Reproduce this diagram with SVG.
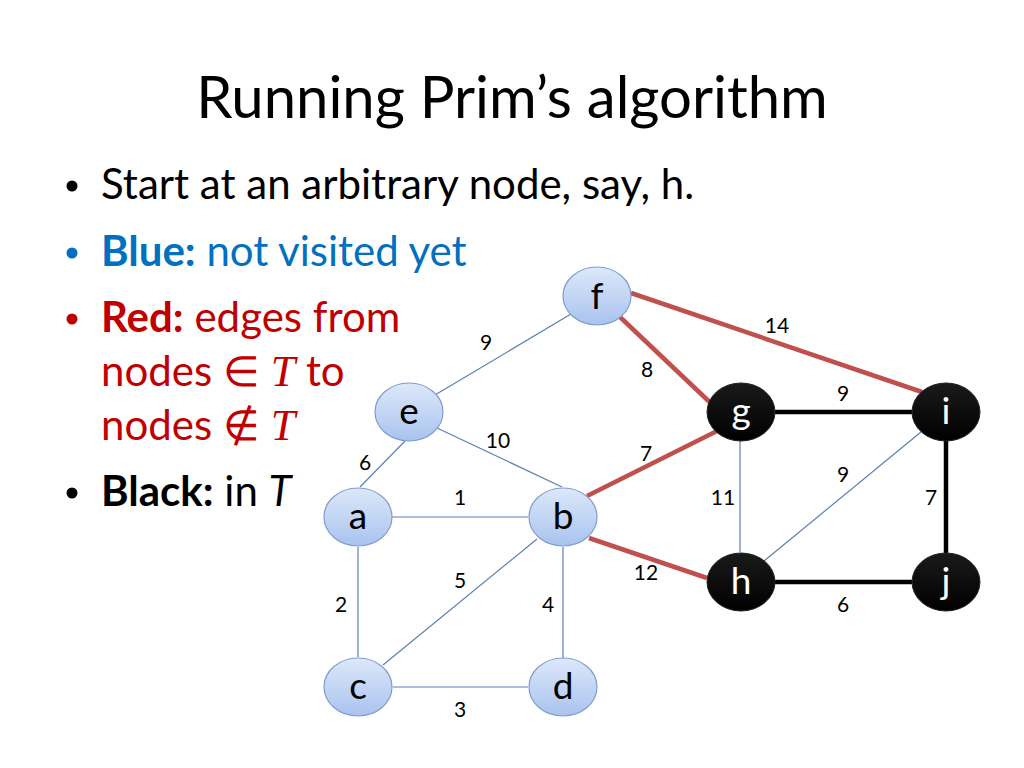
<svg xmlns="http://www.w3.org/2000/svg" width="1024" height="768" viewBox="0 0 1024 768">
<defs>
<linearGradient id="bg" x1="0" y1="0" x2="0" y2="1">
<stop offset="0" stop-color="#dde8fa"/>
<stop offset="1" stop-color="#a9c3ee"/>
</linearGradient>
<linearGradient id="kg" x1="0" y1="0" x2="0" y2="1">
<stop offset="0" stop-color="#1a1a1a"/>
<stop offset="1" stop-color="#000"/>
</linearGradient>
<style>
.t{font-family:Lato,"Open Sans",sans-serif}
.title{font-size:58px;fill:#000}
.b{font-size:42px}
.w{font-size:21px;fill:#000;text-anchor:middle}
.nb ellipse{fill:url(#bg);stroke:#7f9ccf;stroke-width:1.2}
.nk ellipse{fill:url(#kg);stroke:#222;stroke-width:1}
.nb text{font-size:37px;fill:#000;text-anchor:middle}
.nk text{font-size:37px;fill:#fff;text-anchor:middle}
.eb{stroke:#5b7fb5;stroke-width:1.2;fill:none}
.er{stroke:#c0504d;stroke-width:4.5;fill:none}
.ek{stroke:#000;stroke-width:4.5;fill:none}
.m{font-family:"Liberation Serif",serif;font-style:italic}
</style>
</defs>
<rect width="1024" height="768" fill="#fff"/>
<text class="t title" x="512" y="118" text-anchor="middle">Running Prim’s algorithm</text>
<g class="t b">
<circle cx="72" cy="186" r="5.5" fill="#000"/>
<text x="101" y="199" fill="#000">Start at an arbitrary node, say, h.</text>
<circle cx="72" cy="253" r="5.5" fill="#0070c0"/>
<text x="101" y="266" fill="#0070c0"><tspan font-weight="bold">Blue:</tspan> not visited yet</text>
<circle cx="72" cy="319" r="5.5" fill="#c00000"/>
<text x="101" y="332" fill="#c00000"><tspan font-weight="bold">Red:</tspan> edges from</text>
<text x="101" y="386" fill="#c00000">nodes ∈ <tspan class="m" font-size="44">T</tspan> to</text>
<text x="101" y="440" fill="#c00000">nodes ∉ <tspan class="m" font-size="44">T</tspan></text>
<circle cx="72" cy="493" r="5.5" fill="#000"/>
<text x="101" y="506" fill="#000"><tspan font-weight="bold">Black:</tspan> in <tspan font-style="italic">T</tspan></text>
</g>
<g id="edges">
<line class="eb" x1="435" y1="395" x2="571" y2="314"/>
<line class="eb" x1="437" y1="428" x2="562" y2="487"/>
<line class="eb" x1="405" y1="441" x2="360" y2="487"/>
<line class="eb" x1="392" y1="517" x2="528" y2="517"/>
<line class="eb" x1="358" y1="547" x2="358" y2="657"/>
<line class="eb" x1="537" y1="539" x2="383" y2="665"/>
<line class="eb" x1="563" y1="547" x2="563" y2="658"/>
<line class="eb" x1="393" y1="687" x2="528" y2="687"/>
<line class="eb" x1="740" y1="441" x2="740" y2="552"/>
<line class="eb" x1="764" y1="561" x2="921" y2="432"/>
<line class="er" x1="620" y1="317" x2="718" y2="410"/>
<line class="er" x1="631" y1="293" x2="922" y2="392"/>
<line class="er" x1="587" y1="496" x2="717" y2="431"/>
<line class="er" x1="589" y1="538" x2="707" y2="578"/>
<line class="ek" x1="775" y1="412" x2="912" y2="412"/>
<line class="ek" x1="946" y1="440" x2="946" y2="553"/>
<line class="ek" x1="774" y1="582" x2="912" y2="582"/>
<g class="t">
<text class="w" x="486" y="350">9</text>
<text class="w" x="777" y="333">14</text>
<text class="w" x="647" y="377">8</text>
<text class="w" x="843" y="401">9</text>
<text class="w" x="498" y="448">10</text>
<text class="w" x="646" y="461">7</text>
<text class="w" x="365" y="470">6</text>
<text class="w" x="460" y="505">1</text>
<text class="w" x="843" y="482">9</text>
<text class="w" x="723" y="505">11</text>
<text class="w" x="931" y="505">7</text>
<text class="w" x="646" y="580">12</text>
<text class="w" x="460" y="588">5</text>
<text class="w" x="548" y="612">4</text>
<text class="w" x="341" y="612">2</text>
<text class="w" x="843" y="612">6</text>
<text class="w" x="460" y="717">3</text>
</g>
</g>
<g id="node-f" class="nb t"><ellipse cx="597" cy="296" rx="34" ry="29"/><text x="597" y="309">f</text></g>
<g id="node-e" class="nb t"><ellipse cx="409" cy="412" rx="34" ry="29"/><text x="409" y="424">e</text></g>
<g id="node-a" class="nb t"><ellipse cx="358" cy="517" rx="34" ry="29"/><text x="358" y="529">a</text></g>
<g id="node-b" class="nb t"><ellipse cx="563" cy="517" rx="34" ry="29"/><text x="563" y="529">b</text></g>
<g id="node-c" class="nb t"><ellipse cx="358" cy="687" rx="34" ry="29"/><text x="358" y="699">c</text></g>
<g id="node-d" class="nb t"><ellipse cx="563" cy="687" rx="34" ry="29"/><text x="563" y="699">d</text></g>
<g id="node-g" class="nk t"><ellipse cx="741" cy="412" rx="34" ry="29"/><text x="741" y="424">g</text></g>
<g id="node-i" class="nk t"><ellipse cx="946" cy="412" rx="34" ry="29"/><text x="946" y="424">i</text></g>
<g id="node-h" class="nk t"><ellipse cx="741" cy="582" rx="34" ry="29"/><text x="741" y="594">h</text></g>
<g id="node-j" class="nk t"><ellipse cx="946" cy="582" rx="34" ry="29"/><text x="946" y="594">j</text></g>
</svg>
